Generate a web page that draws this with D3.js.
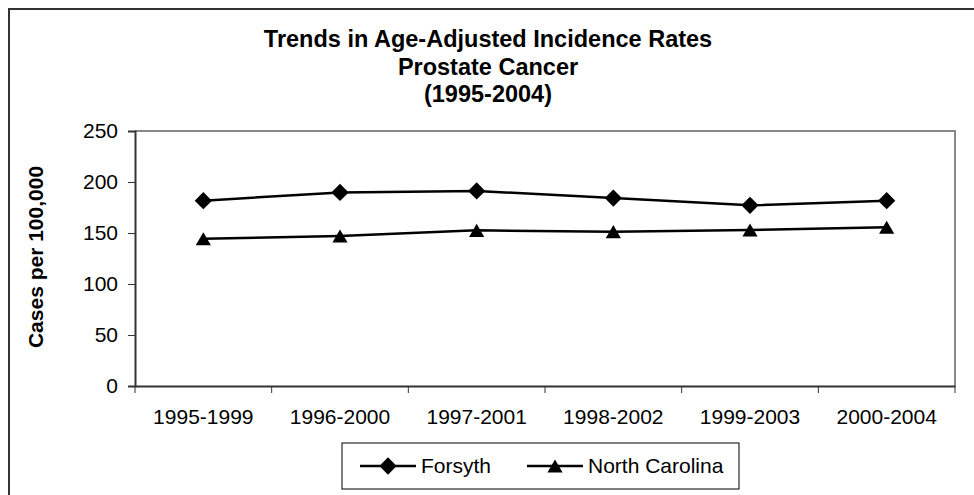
<!DOCTYPE html>
<html>
<head>
<meta charset="utf-8">
<script src="https://cdn.jsdelivr.net/npm/d3@7"></script>
<style>
  body { margin: 0; background: #fff; }
  text { font-family: "Liberation Sans", Arial, sans-serif; fill: #000; }
</style>
</head>
<body>
<div id="chart"></div>
<script>
// data
var periods = ["1995-1999", "1996-2000", "1997-2001", "1998-2002", "1999-2003", "2000-2004"];
var forsyth = [181.7, 189.8, 191.2, 184.3, 177.1, 181.7];
var northCarolina = [144.4, 147.1, 152.6, 151.3, 152.9, 155.6];
var yTicks = [0, 50, 100, 150, 200, 250];
var titleLines = ["Trends in Age-Adjusted Incidence Rates", "Prostate Cancer", "(1995-2004)"];

var W = 974, H = 495;
var margin = {top: 131, right: 19, bottom: 109, left: 135},
    width = W - margin.left - margin.right,
    height = H - margin.top - margin.bottom;

var svg = d3.select("#chart").append("svg")
    .attr("width", W)
    .attr("height", H);

// outer frame
svg.append("rect")
    .attr("x", 9).attr("y", 9)
    .attr("width", W + 10).attr("height", H + 10)
    .style("fill", "none")
    .style("stroke", "#333")
    .style("stroke-width", 2);

// title
svg.append("g").selectAll("text")
    .data(titleLines)
    .enter().append("text")
    .attr("x", 488)
    .attr("y", function(d, i) { return 47 + i * 27.5; })
    .attr("text-anchor", "middle")
    .style("font-size", "23.5px")
    .style("font-weight", "bold")
    .text(function(d) { return d; });

var g = svg.append("g")
    .attr("transform", "translate(" + margin.left + "," + margin.top + ")");

// scales
var xBand = d3.scaleBand().domain(periods).range([0, width]);
var x = d3.scalePoint().domain(periods).range([0, width]).padding(0.5);
var y = d3.scaleLinear().domain([0, 250]).range([height, 0]);

// plot area border (top / right in gray)
g.append("path")
    .attr("d", "M0,0H" + width + "V" + height)
    .style("fill", "none")
    .style("stroke", "#888")
    .style("stroke-width", 2);

// y axis
var yAxis = g.append("g")
    .call(d3.axisLeft(y).tickValues(yTicks).tickSize(7).tickPadding(10));
yAxis.select(".domain").style("stroke", "#333").style("stroke-width", 2);
yAxis.selectAll(".tick line").style("stroke", "#333");
yAxis.selectAll("text")
    .style("font-size", "21px")
    .style("font-family", "Liberation Sans, Arial, sans-serif")
    .attr("fill", "#000");

// x axis: labels centred in bands, ticks on band edges
var xAxis = g.append("g")
    .attr("transform", "translate(0," + height + ")")
    .call(d3.axisBottom(xBand).tickSize(0).tickPadding(23));
xAxis.select(".domain").style("stroke", "#333").style("stroke-width", 2);
xAxis.selectAll("text")
    .style("font-size", "21px")
    .style("font-family", "Liberation Sans, Arial, sans-serif")
    .attr("fill", "#000");
xAxis.selectAll("line.edge")
    .data(d3.range(periods.length + 1))
    .enter().append("line")
    .attr("class", "edge")
    .attr("x1", function(d) { return d * xBand.step(); })
    .attr("x2", function(d) { return d * xBand.step(); })
    .attr("y1", 0)
    .attr("y2", 7)
    .style("stroke", "#333");

// y axis title
svg.append("text")
    .attr("transform", "translate(43,257) rotate(-90)")
    .attr("text-anchor", "middle")
    .style("font-size", "21px")
    .style("font-weight", "bold")
    .text("Cases per 100,000");

// markers: diamond, and triangle shifted so its box is centred on the point
var diamondSize = 190, triangleSize = 165;
function markerPath(kind) {
    if (kind === "diamond") return d3.symbol().type(d3.symbolDiamond2).size(diamondSize)();
    return d3.symbol().type(d3.symbolTriangle2).size(triangleSize)();
}
function markerShift(kind) {
    return kind === "diamond" ? 0 : Math.sqrt(triangleSize) * 0.6824 / 4;
}

function drawSeries(values, kind) {
    var pts = periods.map(function(p, i) { return {p: p, v: values[i]}; });
    g.append("path")
        .datum(pts)
        .attr("d", d3.line()
            .x(function(d) { return x(d.p); })
            .y(function(d) { return y(d.v); }))
        .style("fill", "none")
        .style("stroke", "#000")
        .style("stroke-width", 2.5);
    g.selectAll(null)
        .data(pts)
        .enter().append("path")
        .attr("transform", function(d) {
            return "translate(" + x(d.p) + "," + (y(d.v) + markerShift(kind)) + ")";
        })
        .attr("d", markerPath(kind))
        .style("fill", "#000");
}
drawSeries(forsyth, "diamond");
drawSeries(northCarolina, "triangle");

// legend
var legend = svg.append("g");
legend.append("rect")
    .attr("x", 342).attr("y", 443)
    .attr("width", 397).attr("height", 46)
    .style("fill", "#fff")
    .style("stroke", "#000")
    .style("stroke-width", 1);

var legendItems = [
    {name: "Forsyth", kind: "diamond", x0: 360},
    {name: "North Carolina", kind: "triangle", x0: 527}
];
legendItems.forEach(function(it) {
    legend.append("line")
        .attr("x1", it.x0).attr("x2", it.x0 + 56)
        .attr("y1", 466).attr("y2", 466)
        .style("stroke", "#000")
        .style("stroke-width", 2.5);
    legend.append("path")
        .attr("transform", "translate(" + (it.x0 + 28) + "," + (466 + markerShift(it.kind)) + ")")
        .attr("d", markerPath(it.kind))
        .style("fill", "#000");
    legend.append("text")
        .attr("x", it.x0 + 61)
        .attr("y", 473)
        .style("font-size", "21px")
        .text(it.name);
});
</script>
</body>
</html>
